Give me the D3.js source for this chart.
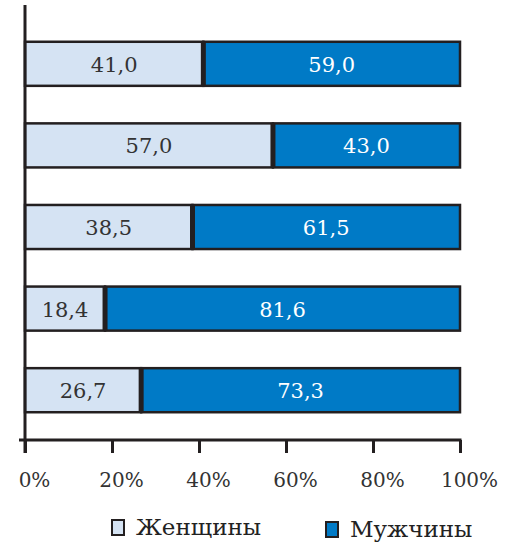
<!DOCTYPE html>
<html>
<head>
<meta charset="utf-8">
<script src="https://cdn.jsdelivr.net/npm/d3@7"></script>
<style>
  body { margin: 0; background: #fff; }
</style>
</head>
<body>
<svg width="522" height="549"></svg>
<script>
// data
var groups = ["1", "2", "3", "4", "5"];
var women = [41.0, 57.0, 38.5, 18.4, 26.7];
var men = [59.0, 43.0, 61.5, 81.6, 73.3];
var tickValues = [0, 20, 40, 60, 80, 100];
var seriesNames = ["Женщины", "Мужчины"];

var svg = d3.select("svg");
var ink = "#231f20";
var font = "DejaVu Serif";
var colors = ["#d5e3f3", "#007ac6"];

// scales
var x = d3.scaleLinear().domain([0, 100]).range([25, 460]);
var y = d3.scaleBand()
    .domain(groups)
    .range([23, 431])
    .paddingInner(0.46)
    .paddingOuter(0.23);

var fmt = function(v) { return v.toFixed(1).replace(".", ","); };

var rows = groups.map(function(g, i) {
  return { g: g, w: women[i], m: men[i] };
});

var bars = svg.append("g").selectAll("g")
  .data(rows)
  .enter()
  .append("g");

// women segment
bars.append("rect")
    .attr("x", x(0))
    .attr("y", function(d) { return y(d.g); })
    .attr("width", function(d) { return x(d.w) - x(0); })
    .attr("height", y.bandwidth())
    .attr("fill", colors[0])
    .attr("stroke", ink)
    .attr("stroke-width", 2.5);

// men segment
bars.append("rect")
    .attr("x", function(d) { return x(d.w); })
    .attr("y", function(d) { return y(d.g); })
    .attr("width", function(d) { return x(d.w + d.m) - x(d.w); })
    .attr("height", y.bandwidth())
    .attr("fill", colors[1])
    .attr("stroke", ink)
    .attr("stroke-width", 2.5);

// thick separator between the two parts
bars.append("line")
    .attr("x1", function(d) { return x(d.w); })
    .attr("x2", function(d) { return x(d.w); })
    .attr("y1", function(d) { return y(d.g); })
    .attr("y2", function(d) { return y(d.g) + y.bandwidth(); })
    .attr("stroke", ink)
    .attr("stroke-width", 5);

bars.append("text")
    .attr("x", function(d) { return (x(0) + x(d.w)) / 2; })
    .attr("y", function(d) { return y(d.g) + y.bandwidth() / 2 + 8; })
    .attr("text-anchor", "middle")
    .attr("font-family", font)
    .attr("font-size", 21)
    .attr("fill", "#333")
    .text(function(d) { return fmt(d.w); });

bars.append("text")
    .attr("x", function(d) { return (x(d.w) + x(d.w + d.m)) / 2; })
    .attr("y", function(d) { return y(d.g) + y.bandwidth() / 2 + 8; })
    .attr("text-anchor", "middle")
    .attr("font-family", font)
    .attr("font-size", 21)
    .attr("fill", "#fff")
    .text(function(d) { return fmt(d.m); });

// y axis line
svg.append("line")
    .attr("x1", x(0)).attr("x2", x(0))
    .attr("y1", 5).attr("y2", 453)
    .attr("stroke", ink)
    .attr("stroke-width", 3);

// x axis
var xAxis = d3.axisBottom(x)
    .tickValues(tickValues)
    .tickSize(13)
    .tickSizeOuter(0)
    .tickFormat(function(d) { return d + "%"; });

var gx = svg.append("g")
    .attr("transform", "translate(0,440)")
    .call(xAxis)
    .attr("font-family", font)
    .attr("font-size", 20);

gx.select(".domain")
    .attr("d", "M19,0H" + (x(100) + 1.5))
    .attr("stroke", ink)
    .attr("stroke-width", 3);
gx.selectAll(".tick line")
    .attr("stroke", ink)
    .attr("stroke-width", 3);
gx.selectAll(".tick text")
    .attr("fill", "#333")
    .attr("dx", 9)
    .attr("y", 29)
    .attr("dy", 18);

// legend
var legend = svg.append("g");
var legendX = [112, 326];
var legendY = [520, 522];

seriesNames.forEach(function(name, i) {
  legend.append("rect")
      .attr("x", legendX[i])
      .attr("y", legendY[i])
      .attr("width", 12)
      .attr("height", 15)
      .attr("fill", colors[i])
      .attr("stroke", ink)
      .attr("stroke-width", 2);
  legend.append("text")
      .attr("x", legendX[i] + 24)
      .attr("y", legendY[i] + 15)
      .attr("font-family", font)
      .attr("font-size", 23)
      .attr("fill", "#222")
      .text(name);
});
</script>
</body>
</html>
